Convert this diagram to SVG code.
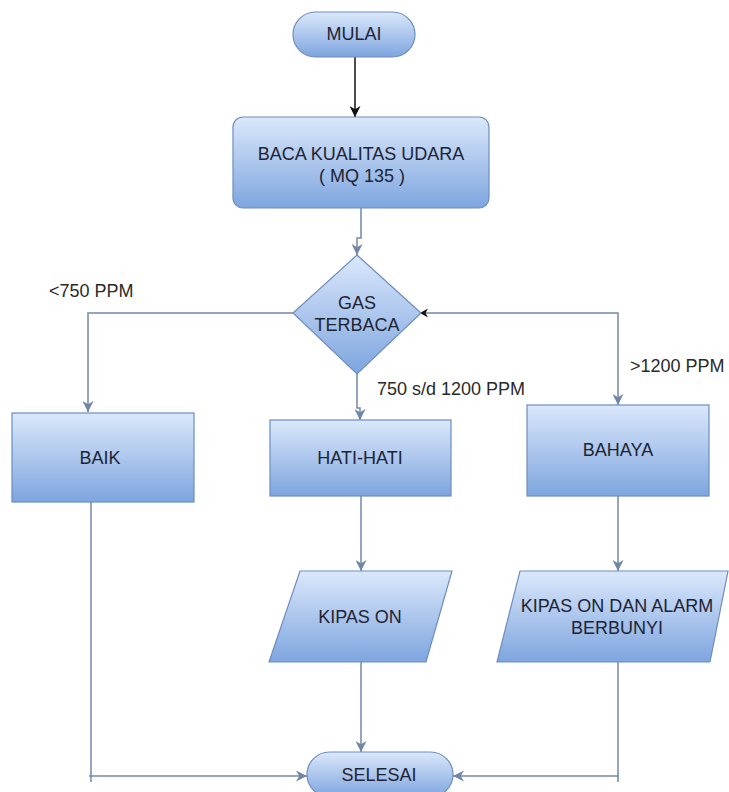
<svg xmlns="http://www.w3.org/2000/svg" width="729" height="792" viewBox="0 0 729 792">
<style>
.shape{fill:url(#g);stroke:#6c8ebf;stroke-width:1.2}
.t{font-family:"Liberation Sans",Arial,sans-serif;font-size:18px;fill:#1e2433;text-anchor:middle}
.lbl{font-family:"Liberation Sans",Arial,sans-serif;font-size:18px;fill:#2a2a2a}
.c{fill:none;stroke:#7588a6;stroke-width:1.5}
</style>
<defs>
<linearGradient id="g" x1="0" y1="0" x2="0" y2="1">
<stop offset="0" stop-color="#dbe8fb"/>
<stop offset="1" stop-color="#7ea5df"/>
</linearGradient>
<marker id="a" viewBox="0 0 10 10" refX="10" refY="5" markerWidth="11" markerHeight="11" markerUnits="userSpaceOnUse" orient="auto">
<path d="M0,0 L10,5 L0,10 L3,5 z" fill="#6f86a8"/>
</marker>
<marker id="ab" viewBox="0 0 10 10" refX="10" refY="5" markerWidth="11" markerHeight="11" markerUnits="userSpaceOnUse" orient="auto">
<path d="M0,0 L10,5 L0,10 L3,5 z" fill="#111"/>
</marker>
</defs>
<rect width="729" height="792" fill="#fff"/>
<g id="connectors">
<path d="M355,57 V117" fill="none" stroke="#111" stroke-width="1.5" marker-end="url(#ab)"/>
<path class="c" d="M361,208 V238 H357 V255" marker-end="url(#a)"/>
<path class="c" d="M293,313 H88 V412" marker-end="url(#a)"/>
<path class="c" d="M357,374 V408 H360 V420" marker-end="url(#a)"/>
<path class="c" d="M421,313 H618 V405" marker-end="url(#a)"/>
<path d="M420,313 L428,308.5 L425.5,313 L428,317.5 z" fill="#111"/>
<path class="c" d="M91,502 V782"/>
<path class="c" d="M89,776 H307" marker-end="url(#a)"/>
<path class="c" d="M361,496 V571" marker-end="url(#a)"/>
<path class="c" d="M361,662 V752" marker-end="url(#a)"/>
<path class="c" d="M618,496 V571" marker-end="url(#a)"/>
<path class="c" d="M618,662 V782"/>
<path class="c" d="M619,776 H453" marker-end="url(#a)"/>
</g>
<g id="mulai">
<rect class="shape" x="293" y="12" width="122" height="45" rx="22.5"/>
<text class="t" x="354" y="40">MULAI</text>
</g>
<g id="baca">
<rect class="shape" x="233" y="117" width="256" height="91" rx="10"/>
<text class="t" x="361" y="160">BACA KUALITAS UDARA</text>
<text class="t" x="362" y="182">( MQ 135 )</text>
</g>
<g id="gas">
<path class="shape" d="M357,255 L421,313 L357,374 L293,313 z"/>
<text class="t" x="357" y="309">GAS</text>
<text class="t" x="357" y="331">TERBACA</text>
</g>
<g id="baik">
<rect class="shape" x="12" y="413" width="182" height="89"/>
<text class="t" x="100" y="464">BAIK</text>
</g>
<g id="hati">
<rect class="shape" x="270" y="420" width="181" height="76"/>
<text class="t" x="360" y="464">HATI-HATI</text>
</g>
<g id="bahaya">
<rect class="shape" x="527" y="405" width="182" height="91"/>
<text class="t" x="618" y="456">BAHAYA</text>
</g>
<g id="kipas">
<path class="shape" d="M300,571 H452 L426,662 H269 z"/>
<text class="t" x="360" y="623">KIPAS ON</text>
</g>
<g id="kipas-alarm">
<path class="shape" d="M520,571 H728 L710,662 H497 z"/>
<text class="t" x="617" y="612">KIPAS ON DAN ALARM</text>
<text class="t" x="617" y="634">BERBUNYI</text>
</g>
<g id="selesai">
<rect class="shape" x="307" y="752" width="146" height="45" rx="22.5"/>
<text class="t" x="379" y="781">SELESAI</text>
</g>
<g id="labels">
<text class="lbl" x="49" y="297">&lt;750 PPM</text>
<text class="lbl" x="377" y="395">750 s/d 1200 PPM</text>
<text class="lbl" x="630" y="372">&gt;1200 PPM</text>
</g>
</svg>
